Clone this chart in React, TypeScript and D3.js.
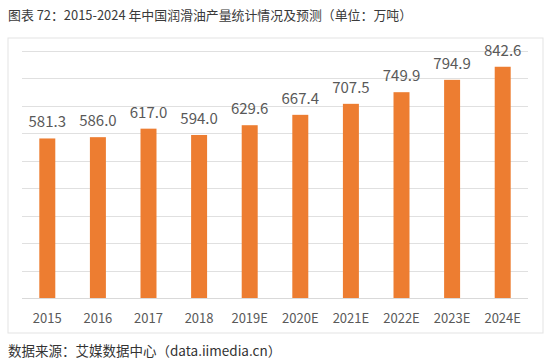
import React from "react";
import * as d3 from "d3";

const categories = ["2015", "2016", "2017", "2018", "2019E", "2020E", "2021E", "2022E", "2023E", "2024E"];
const values = [581.3, 586.0, 617.0, 594.0, 629.6, 667.4, 707.5, 749.9, 794.9, 842.6];
const gridTicks = [100, 200, 300, 400, 500, 600, 700, 800, 900];
const title = "图表 72：2015-2024 年中国润滑油产量统计情况及预测（单位：万吨）";
const source = "数据来源：艾媒数据中心（data.iimedia.cn）";

export default function App() {
  const W = 550, H = 360;
  const left = 22, right = 528, top = 51, bottom = 298;
  const x = d3.scaleBand<string>().domain(categories).range([left, right]).paddingInner(0.684).paddingOuter(0.342);
  const y = d3.scaleLinear().domain([0, 900]).range([bottom, top]);
  const font = "'Noto Sans CJK SC', 'Noto Sans', sans-serif";
  return (
    <svg width={W} height={H} style={{ position: "absolute", left: 0, top: 0, background: "#fff" }} fontFamily={font}>
      <rect x={0} y={0} width={W} height={H} fill="#fff" />
      <text x={8} y={20} fontSize={12.9} fill="#3a3a3a">{title}</text>
      <rect x={8} y={38} width={535} height={295} fill="#fff" stroke="#e3e3e3" strokeWidth={1} />
      {gridTicks.map((t) => (
        <line key={t} x1={left} x2={right} y1={Math.round(y(t)) + 0.5} y2={Math.round(y(t)) + 0.5} stroke="#e0e0e0" strokeWidth={1} />
      ))}
      {categories.map((c, i) => (
        <g key={c}>
          <rect x={x(c)!} y={y(values[i])} width={x.bandwidth()} height={bottom - y(values[i])} fill="#ED7D31" />
          <text x={x(c)! + x.bandwidth() / 2} y={y(values[i]) - 11} textAnchor="middle" fontSize={15} fill="#595959">
            {values[i].toFixed(1)}
          </text>
          <text x={x(c)! + x.bandwidth() / 2} y={323} textAnchor="middle" fontSize={13} fill="#595959">
            {c}
          </text>
        </g>
      ))}
      <line x1={left} x2={right} y1={bottom + 0.5} y2={bottom + 0.5} stroke="#d9d9d9" strokeWidth={1} />
      <text x={8} y={356} fontSize={13.5} fill="#333">{source}</text>
    </svg>
  );
}
